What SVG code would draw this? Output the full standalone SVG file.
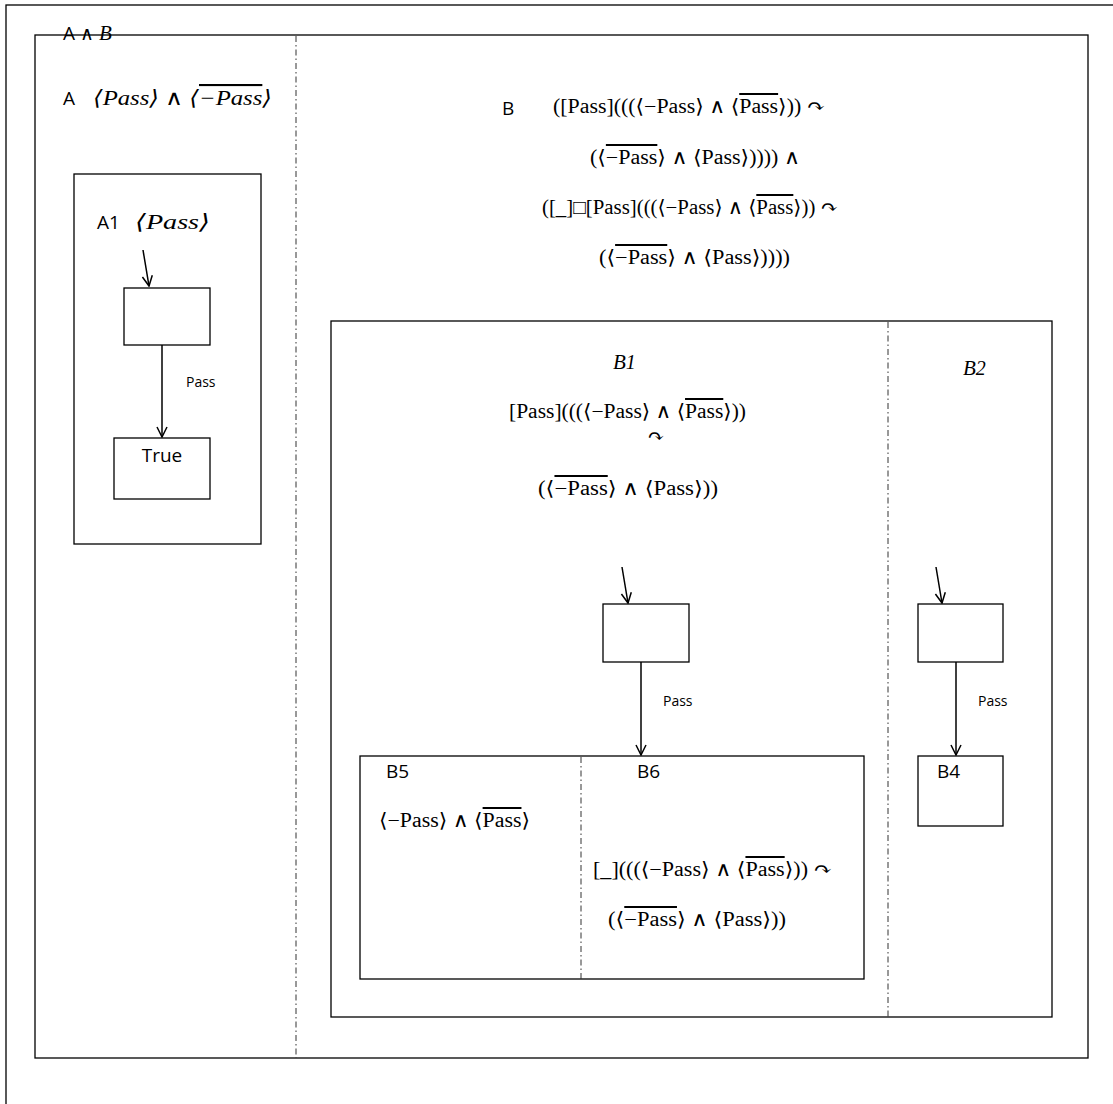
<svg xmlns="http://www.w3.org/2000/svg" width="1113" height="1104" viewBox="0 0 1113 1104">
<defs>
<marker id="arr" viewBox="0 0 12 12" refX="11" refY="6" markerWidth="12" markerHeight="12" markerUnits="userSpaceOnUse" orient="auto">
<path d="M1,1 L11,6 L1,11" fill="none" stroke="#000" stroke-width="1.5"/>
</marker>
<style>
.box{fill:none;stroke:#000;stroke-width:1.3}
.div{stroke:#333;stroke-width:1;stroke-dasharray:6 3 1.5 3}
.lbl{font-family:"Open Sans","Liberation Sans",sans-serif;font-size:19px;fill:#000}
.sm{font-family:"Open Sans","Liberation Sans",sans-serif;font-size:14px;fill:#000}
.m{font-family:"Liberation Serif","DejaVu Serif",serif;font-size:20px;fill:#000}
.mi{font-family:"Liberation Serif","DejaVu Serif",serif;font-style:italic;font-size:21px;fill:#000}
.ov{text-decoration:overline}
.edge{fill:none;stroke:#000;stroke-width:1.5;marker-end:url(#arr)}
</style>
</defs>
<rect x="6" y="5" width="1130" height="1130" fill="#fff" stroke="#000" stroke-width="1.3"/>
<g id="top">
<text class="lbl" x="63" y="40">A ∧ <tspan class="mi" font-size="22px">B</tspan></text>
</g>
<g id="AB">
<rect class="box" x="35" y="35" width="1053" height="1023"/>
<line class="div" x1="296" y1="36" x2="296" y2="1058"/>
</g>
<g id="A">
<text class="lbl" x="63" y="105">A</text>
<text class="mi" x="93" y="105" textLength="179" lengthAdjust="spacingAndGlyphs">⟨Pass⟩ ∧ ⟨<tspan class="ov">−Pass</tspan>⟩</text>
</g>
<g id="A1">
<rect class="box" x="74" y="174" width="187" height="370"/>
<text class="lbl" x="97" y="229">A1</text>
<text class="mi" x="135" y="229" font-size="22px" textLength="75" lengthAdjust="spacingAndGlyphs">⟨Pass⟩</text>
</g>
<g id="A1s">
<rect class="box" x="124" y="288" width="86" height="57"/>
</g>
<g id="True">
<rect class="box" x="114" y="438" width="96" height="61"/>
<text class="lbl" x="162" y="462" text-anchor="middle">True</text>
</g>
<g id="B">
<text class="lbl" x="502" y="115">B</text>
<text class="m" x="553" y="113" textLength="272" lengthAdjust="spacingAndGlyphs">([Pass](((⟨−Pass⟩ ∧ ⟨<tspan class="ov">Pass</tspan>⟩)) ↷</text>
<text class="m" x="590" y="164" textLength="210" lengthAdjust="spacingAndGlyphs">(⟨<tspan class="ov">−Pass</tspan>⟩ ∧ ⟨Pass⟩))))  ∧</text>
<text class="m" x="542" y="214" textLength="296" lengthAdjust="spacingAndGlyphs">([_]□[Pass](((⟨−Pass⟩ ∧ ⟨<tspan class="ov">Pass</tspan>⟩)) ↷</text>
<text class="m" x="599" y="264" textLength="191" lengthAdjust="spacingAndGlyphs">(⟨<tspan class="ov">−Pass</tspan>⟩ ∧ ⟨Pass⟩))))</text>
</g>
<g id="Bbox">
<rect class="box" x="331" y="321" width="721" height="696"/>
<line class="div" x1="888" y1="322" x2="888" y2="1017"/>
</g>
<g id="B1">
<text class="mi" x="613" y="369" font-size="22px">B<tspan class="m" font-size="22px">1</tspan></text>
<text class="m" x="509" y="418" textLength="237" lengthAdjust="spacingAndGlyphs">[Pass](((⟨−Pass⟩ ∧ ⟨<tspan class="ov">Pass</tspan>⟩))</text>
<text class="m" x="656" y="443" text-anchor="middle" font-size="16">↷</text>
<text class="m" x="538" y="495" textLength="180" lengthAdjust="spacingAndGlyphs">(⟨<tspan class="ov">−Pass</tspan>⟩ ∧ ⟨Pass⟩))</text>
</g>
<g id="B1s">
<rect class="box" x="603" y="604" width="86" height="58"/>
</g>
<g id="B2">
<text class="mi" x="963" y="375" font-size="22px">B<tspan class="m" font-size="22px">2</tspan></text>
</g>
<g id="B2s">
<rect class="box" x="918" y="604" width="85" height="58"/>
</g>
<g id="B4">
<rect class="box" x="918" y="756" width="85" height="70"/>
<text class="lbl" x="937" y="778">B4</text>
</g>
<g id="B56">
<rect class="box" x="360" y="756" width="504" height="223"/>
<line class="div" x1="581" y1="757" x2="581" y2="979"/>
</g>
<g id="B5">
<text class="lbl" x="386" y="778">B5</text>
<text class="m" x="379" y="827" textLength="151" lengthAdjust="spacingAndGlyphs">⟨−Pass⟩ ∧ ⟨<tspan class="ov">Pass</tspan>⟩</text>
</g>
<g id="B6">
<text class="lbl" x="637" y="778">B6</text>
<text class="m" x="593" y="876" textLength="239" lengthAdjust="spacingAndGlyphs">[_](((⟨−Pass⟩ ∧ ⟨<tspan class="ov">Pass</tspan>⟩)) ↷</text>
<text class="m" x="608" y="926" textLength="178" lengthAdjust="spacingAndGlyphs">(⟨<tspan class="ov">−Pass</tspan>⟩ ∧ ⟨Pass⟩))</text>
</g>
<g id="connectors">
<line class="edge" x1="143" y1="250" x2="149" y2="286"/>
<line class="edge" x1="162" y1="345" x2="162" y2="437"/>
<text class="sm" x="186" y="387">Pass</text>
<line class="edge" x1="622" y1="567" x2="628" y2="603"/>
<line class="edge" x1="641" y1="662" x2="641" y2="755"/>
<text class="sm" x="663" y="706">Pass</text>
<line class="edge" x1="936" y1="567" x2="942" y2="603"/>
<line class="edge" x1="956" y1="662" x2="956" y2="755"/>
<text class="sm" x="978" y="706">Pass</text>
</g>
</svg>
